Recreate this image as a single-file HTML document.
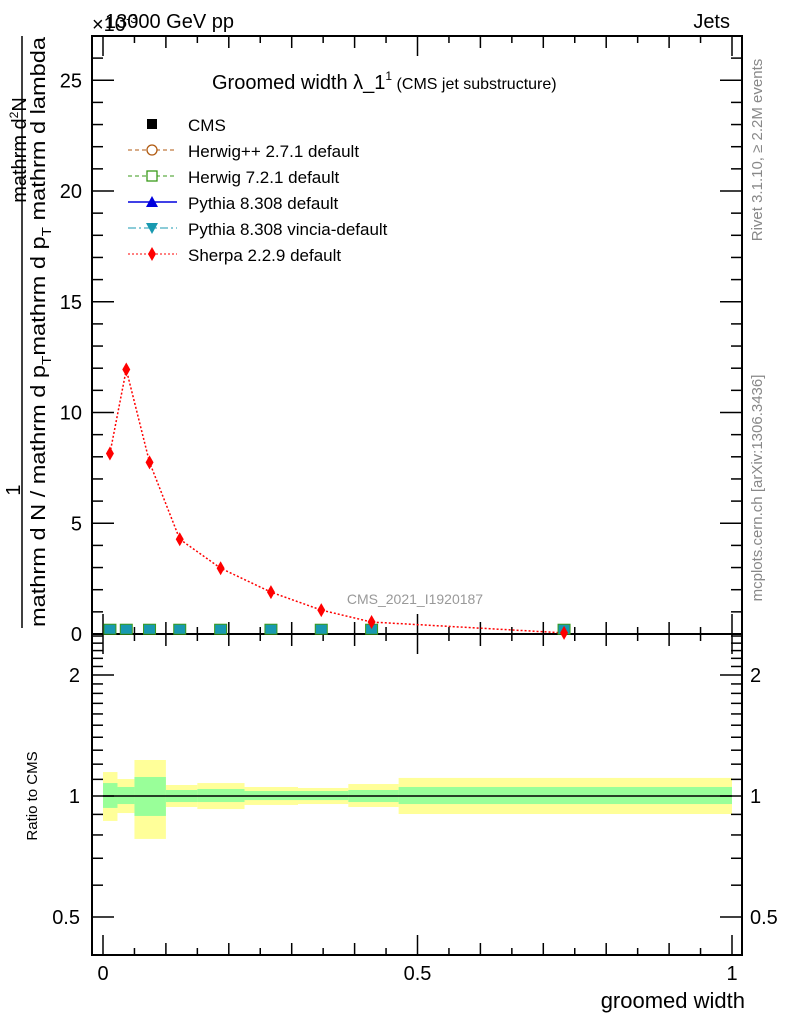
<!DOCTYPE html>
<html><head><meta charset="utf-8"><style>
body{margin:0;background:#fff}
svg{display:block;font-family:"Liberation Sans",sans-serif}
</style></head><body>
<svg id="c" width="786" height="1024" viewBox="0 0 786 1024">
<g id="g"></g>
<text x="92" y="31" font-size="20">×10<tspan font-size="13" dy="-8">-3</tspan></text>
<text x="105" y="28" font-size="20">13000 GeV pp</text>
<text x="730" y="28" font-size="20" text-anchor="end">Jets</text>
<text x="212" y="89" font-size="20">Groomed width λ_1<tspan font-size="12" dy="-9">1</tspan><tspan font-size="16" dy="9"> (CMS jet substructure)</tspan></text>
<text x="415" y="604" font-size="14" fill="#999" text-anchor="middle">CMS_2021_I1920187</text>
<g>
<text transform="translate(26,150) rotate(-90)" font-size="20" text-anchor="middle">mathrm d<tspan font-size="12" dy="-8">2</tspan><tspan dy="8">N</tspan></text>
<line x1="22" x2="22" y1="36" y2="628" stroke="#000" stroke-width="1.5"/>
<text transform="translate(20,490) rotate(-90)" font-size="20" text-anchor="middle">1</text>
<text transform="translate(45,332) rotate(-90)" font-size="20" text-anchor="middle" textLength="590" lengthAdjust="spacingAndGlyphs">mathrm d N / mathrm d p<tspan font-size="13" dy="6">T</tspan><tspan dy="-6">mathrm d p</tspan><tspan font-size="13" dy="6">T</tspan><tspan dy="-6"> mathrm d lambda</tspan></text>
</g>
<text transform="translate(37,796) rotate(-90)" font-size="15" text-anchor="middle">Ratio to CMS</text>
<text x="745" y="1008" font-size="22" text-anchor="end">groomed width</text>
<text transform="translate(762,150) rotate(-90)" font-size="15" fill="#888" text-anchor="middle">Rivet 3.1.10, ≥ 2.2M events</text>
<text transform="translate(762,488) rotate(-90)" font-size="15" fill="#888" text-anchor="middle">mcplots.cern.ch [arXiv:1306.3436]</text>
</svg>
<script>
const edges=[0,0.023,0.05,0.1,0.15,0.225,0.31,0.39,0.47,1.0];
const sherpaX=[0.011,0.037,0.074,0.122,0.187,0.267,0.347,0.427,0.733];
const sherpaY=[8.15,11.94,7.75,4.28,2.97,1.89,1.08,0.54,0.05];
const mcY=[0.08,0.08,0.08,0.08,0.08,0.08,0.08,0.08,0.08];
const yelHi=[1.147,1.102,1.229,1.065,1.077,1.053,1.047,1.071,1.109];
const yelLo=[0.867,0.907,0.782,0.939,0.928,0.950,0.955,0.939,0.902];
const grnHi=[1.077,1.053,1.115,1.035,1.041,1.029,1.029,1.035,1.053];
const grnLo=[0.934,0.955,0.892,0.966,0.966,0.977,0.977,0.966,0.955];
const mainTicks=[0,5,10,15,20,25];
const ratioTicks=[0.5,1,2];
const xTicks=[0,0.5,1];

const NS="http://www.w3.org/2000/svg";
const g=document.getElementById('g');
function el(t,a,txt){const e=document.createElementNS(NS,t);for(const k in a)e.setAttribute(k,a[k]);if(txt!==undefined)e.textContent=txt;g.appendChild(e);return e;}
const L=92,R=742,T=36,MB=634,RB=955;
const X=v=>103+v*629;
const Y=v=>MB-v*22.15;
const RY=v=>796-Math.log10(v)*402;

for(let i=0;i<edges.length-1;i++){
  let r=el('rect',{x:X(edges[i]),y:RY(yelHi[i]),width:X(edges[i+1])-X(edges[i]),height:RY(yelLo[i])-RY(yelHi[i]),fill:'#ffff99'});
  
  
}
for(let i=0;i<edges.length-1;i++){
  let r=el('rect',{x:X(edges[i]),y:RY(grnHi[i]),width:X(edges[i+1])-X(edges[i]),height:RY(grnLo[i])-RY(grnHi[i]),fill:'#99ff99'});
  
  
}
let rl=el('line',{x1:X(0),x2:X(1),y1:RY(1),y2:RY(1),stroke:'#000','stroke-width':1.5});



let f1=el('rect',{x:L,y:T,width:R-L,height:MB-T,fill:'none',stroke:'#000','stroke-width':2});


let f2=el('rect',{x:L,y:MB,width:R-L,height:RB-MB,fill:'none',stroke:'#000','stroke-width':2});



for(let k=0;k<=20;k++){
  const v=k*0.05,x=X(v);
  const len=(k%10===0)?20:(k%2===0?12:7);
  [[T,1],[MB,-1],[MB,1],[RB,-1]].forEach(([y0,d])=>{el('line',{x1:x,x2:x,y1:y0,y2:y0+d*len,stroke:'#000','stroke-width':1.5});});
}
xTicks.forEach(v=>{let t=el('text',{x:X(v),y:980,'font-size':20,'text-anchor':'middle'},String(v));

});
for(let v=0;v<=27;v++){
  const y=Y(v),len=v%5===0?22:11;
  el('line',{x1:L,x2:L+len,y1:y,y2:y,stroke:'#000','stroke-width':1.5});
  el('line',{x1:R,x2:R-len,y1:y,y2:y,stroke:'#000','stroke-width':1.5});
}
mainTicks.forEach(v=>{let t=el('text',{x:82,y:Y(v)+7,'font-size':20,'text-anchor':'end'},String(v));

});
for(let k=5;k<=25;k++){
  const v=k/10,y=RY(v);const maj=(k===5||k===10||k===20);const len=maj?22:11;
  el('line',{x1:L,x2:L+len,y1:y,y2:y,stroke:'#000','stroke-width':1.5});
  el('line',{x1:R,x2:R-len,y1:y,y2:y,stroke:'#000','stroke-width':1.5});
}
ratioTicks.forEach(v=>{
  let t=el('text',{x:80,y:RY(v)+7,'font-size':20,'text-anchor':'end'},String(v));
  
  
  let t2=el('text',{x:750,y:RY(v)+7,'font-size':20},String(v));
  
  
});

let pts=sherpaX.map((x,i)=>X(x)+','+Y(sherpaY[i])).join(' ');
let pl=el('polyline',{points:pts,fill:'none',stroke:'#ff0000','stroke-width':1.5,'stroke-dasharray':'2,2'});


sherpaX.forEach((x,i)=>{
  const cx=X(x),cy=Y(mcY[i])-3;
  let s=el('rect',{x:cx-6,y:cy-5,width:12,height:10,fill:'#1899b0',stroke:'#3a9a1a','stroke-width':1});
  
  
});
sherpaX.forEach((x,i)=>{
  const cx=X(x),cy=Y(sherpaY[i]);
  let d=el('polygon',{points:`${cx},${cy-7} ${cx+4},${cy} ${cx},${cy+7} ${cx-4},${cy}`,fill:'#ff0000'});
  
  
});

const leg=[["CMS","cms"],["Herwig++ 2.7.1 default","hwpp"],["Herwig 7.2.1 default","hw7"],["Pythia 8.308 default","py"],["Pythia 8.308 vincia-default","pyv"],["Sherpa 2.2.9 default","sh"]];
leg.forEach(([name,k],i)=>{
  const y=124+i*26,mx=152;
  let t=el('text',{x:188,y:y+7,'font-size':17},name);
  
  
  if(k==='cms'){el('rect',{x:mx-5,y:y-5,width:10,height:10,fill:'#000'});}
  if(k==='hwpp'){el('line',{x1:128,x2:177,y1:y,y2:y,stroke:'#b05a10','stroke-dasharray':'4,3'});el('circle',{cx:mx,cy:y,r:5,fill:'#fff',stroke:'#b05a10','stroke-width':1.3});}
  if(k==='hw7'){el('line',{x1:128,x2:177,y1:y,y2:y,stroke:'#3a9a1a','stroke-dasharray':'4,3'});el('rect',{x:mx-5,y:y-5,width:10,height:10,fill:'#fff',stroke:'#3a9a1a','stroke-width':1.3});}
  if(k==='py'){el('line',{x1:128,x2:177,y1:y,y2:y,stroke:'#0000dd','stroke-width':1.5});el('polygon',{points:`${mx},${y-6} ${mx+6},${y+5} ${mx-6},${y+5}`,fill:'#0000dd'});}
  if(k==='pyv'){el('line',{x1:128,x2:177,y1:y,y2:y,stroke:'#1899b0','stroke-dasharray':'8,3,2,3'});el('polygon',{points:`${mx},${y+6} ${mx+6},${y-5} ${mx-6},${y-5}`,fill:'#1899b0'});}
  if(k==='sh'){el('line',{x1:128,x2:177,y1:y,y2:y,stroke:'#ff0000','stroke-dasharray':'2,2'});el('polygon',{points:`${mx},${y-7} ${mx+4},${y} ${mx},${y+7} ${mx-4},${y}`,fill:'#ff0000'});}
});
</script>
</body></html>
